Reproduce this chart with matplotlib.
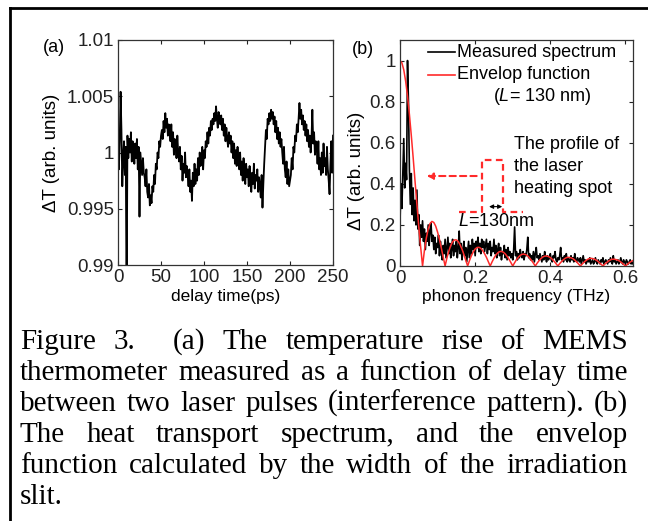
import numpy as np
import matplotlib
matplotlib.use("Agg")
import matplotlib.pyplot as plt
from matplotlib.lines import Line2D

plt.rcParams['font.family'] = ['Liberation Sans', 'DejaVu Sans']
plt.rcParams['mathtext.fontset'] = 'custom'
plt.rcParams['mathtext.rm'] = 'Liberation Sans'
plt.rcParams['mathtext.it'] = 'Liberation Sans:italic'

# --- (a) delay-time trace, 1 ps step, values as (dT - 1) * 1e4 ---
delay_ps = np.arange(0, 251)
dT_dev = [
    0, -15, 10, 54, 20, -30, -5, 10, -20, 5,
    -140, 15, -5, 12, 0, 18, -8, 10, 3, -10,
    8, -5, 12, -15, 5, -57, 0, -10, -20, -5,
    -18, -22, -30, -15, -35, -40, -28, -47, -38, -45,
    -30, -35, -20, -28, -10, -15, 0, -5, 10, 5,
    15, 20, 12, 28, 18, 35, 22, 30, 15, 25,
    20, 10, 25, 5, 18, -2, 12, 8, -5, 15,
    0, -8, 5, -15, -3, -25, -10, -18, 0, -22,
    -12, -20, -30, -15, -35, -25, -43, -18, -30, -10,
    -28, -15, -25, -5, -20, 0, -12, -8, 5, -15,
    2, -5, 10, 5, 18, 8, 22, 15, 28, 20,
    30, 25, 35, 28, 41, 30, 22, 36, 30, 25,
    33, 20, 30, 15, 25, 10, 22, 12, 5, 18,
    8, 15, 0, 10, -5, 8, -10, 2, -12, 5,
    -8, -15, 0, -20, -8, -25, -5, -18, -28, -10,
    -22, -15, -30, -12, -25, -35, -18, -28, -10, -32,
    -20, -25, -15, -35, -22, -30, -40, -20, -49, -28,
    -10, 5, 20, 12, 30, 25, 35, 28, 38, 30,
    36, 25, 32, 18, 28, 12, 22, 8, 18, 5,
    12, 0, -10, 5, -15, -22, -8, -28, -15, -30,
    -25, -20, -5, -15, 5, 0, 15, 10, 25, 18,
    30, 44, 30, 38, 25, 33, 20, 28, 15, 25,
    10, 20, 5, 15, 0, 12, 38, 8, 18, -2,
    10, 5, -10, 10, -15, -5, -20, 0, -18, 8,
    -12, -5, -20, 5, -15, -25, -37, -10, 10, -18,
    15,
]
dT_a = 1 + np.array(dT_dev) * 1e-4

# --- (b) measured spectrum, 0.0025 THz step, values in 1/100 ---
freq_meas = np.arange(0, 249) * 0.0025
spec_meas = [
    21, 40, 28, 45, 62, 38, 50, 42, 100, 80,
    47, 30, 45, 25, 38, 22, 32, 20, 37, 18,
    25, 10, 20, 14, 22, 12, 18, 8, 16, 12,
    20, 10, 17, 21, 12, 15, 8, 14, 6, 11,
    9, 15, 5, 12, 7, 3, 10, 6, 13, 4,
    9, 14, 6, 11, 4, 8, 13, 5, 10, 7,
    12, 4, 9, 17, 6, 11, 3, 8, 12, 5,
    9, 2, 7, 12, 4, 10, 6, 13, 8, 11,
    5, 12, 9, 14, 7, 11, 6, 13, 9, 12,
    7, 10, 13, 6, 11, 8, 12, 5, 9, 7,
    13, 6, 10, 4, 8, 11, 5, 9, 3, 7,
    6, 10, 4, 8, 3, 9, 5, 7, 4, 6,
    3, 8, 19, 5, 7, 3, 6, 4, 8, 5,
    4, 7, 3, 6, 5, 8, 14, 4, 6, 3,
    5, 3, 7, 2, 6, 9, 4, 5, 3, 6,
    4, 2, 5, 3, 7, 4, 2, 5, 3, 4,
    6, 3, 2, 5, 4, 7, 3, 2, 4, 3,
    5, 9, 3, 4, 2, 5, 3, 6, 2, 4,
    3, 2, 5, 3, 4, 2, 6, 3, 2, 4,
    3, 2, 4, 1, 3, 5, 2, 3, 1, 2,
    3, 2, 4, 1, 2, 3, 1, 2, 4, 2,
    1, 3, 2, 1, 3, 2, 4, 1, 2, 3,
    2, 1, 3, 2, 4, 2, 1, 5, 2, 3,
    1, 2, 3, 1, 2, 4, 2, 1, 3, 2,
    1, 3, 2, 1, 2, 3, 1, 2, 1,
]
spec_meas = np.array(spec_meas) / 100

# --- (b) envelop function (L = 130 nm), 0.005 THz step, values in 1/1000 ---
freq_env = np.arange(0, 125) * 0.005
env = [
    1000, 989, 955, 900, 827, 738, 637, 528, 413, 300, 191, 92, 0,
    76, 136, 180, 207, 217, 212, 194, 165, 129, 87, 43, 0,
    40, 73, 100, 118, 127, 127, 119, 103, 82, 56, 28, 0,
    27, 50, 69, 83, 90, 91, 86, 75, 60, 42, 21, 0,
    20, 38, 53, 64, 70, 71, 67, 59, 47, 33, 17, 0,
    16, 31, 43, 52, 57, 58, 55, 49, 39, 27, 14, 0,
    14, 26, 36, 44, 48, 49, 46, 41, 33, 23, 12, 0,
    12, 22, 31, 38, 42, 42, 40, 36, 29, 20, 10, 0,
    10, 19, 27, 33, 37, 37, 35, 31, 25, 17, 9, 0,
    9, 17, 24, 30, 33, 33, 31, 28, 23, 16, 8, 0,
    8, 16, 22, 27,
]
env = np.array(env) / 1000

W, H = 648, 521
fig = plt.figure(figsize=(W / 100, H / 100), dpi=100)


def px_rect(l, t, r, b):
    return [l / W, 1 - b / H, (r - l) / W, (b - t) / H]


def style_axes(ax):
    for s in ax.spines.values():
        s.set_linewidth(0.9)
        s.set_color('#333333')
    ax.tick_params(direction='in', top=True, right=True, length=3, width=0.8,
                   labelsize=13.5, pad=3, colors='#222222')


# --- panel (a) ---
ax1 = fig.add_axes(px_rect(118, 40, 333, 265))
ax1.plot(delay_ps, dT_a, color='black', lw=1.3)
ax1.set_xlim(0, 250)
ax1.set_ylim(0.99, 1.01)
ax1.set_xticks([0, 50, 100, 150, 200, 250])
ax1.set_yticks([0.99, 0.995, 1, 1.005, 1.01])
ax1.set_yticklabels(['0.99', '0.995', '1', '1.005', '1.01'])
style_axes(ax1)
ax1.set_xlabel('delay time(ps)', fontsize=12.5)
ax1.xaxis.set_label_coords(0.5, -0.105)
ax1.set_ylabel('ΔT (arb. units)', fontsize=13.5)
ax1.yaxis.set_label_coords(-0.27, 0.5)
fig.text(43 / W, 1 - 48 / H, '(a)', fontsize=13, va='center', ha='left')

# --- panel (b) ---
red = '#ff2a2a'
ax2 = fig.add_axes(px_rect(400, 40, 633, 266))
ax2.plot(freq_meas, spec_meas, color='black', lw=1.2)
ax2.plot(freq_env, env, color=red, lw=1.1)
ax2.set_xlim(0, 0.62)
ax2.set_ylim(0, 1.1)
ax2.set_xticks([0, 0.2, 0.4, 0.6])
ax2.set_xticklabels(['0', '0.2', '0.4', '0.6'])
ax2.set_yticks([0, 0.2, 0.4, 0.6, 0.8, 1])
ax2.set_yticklabels(['0', '0.2', '0.4', '0.6', '0.8', '1'])
style_axes(ax2)
ax2.set_xlabel('phonon frequency (THz)', fontsize=12.5)
ax2.xaxis.set_label_coords(0.5, -0.1)
ax2.set_ylabel('ΔT (arb. units)', fontsize=13.5)
ax2.yaxis.set_label_coords(-0.15, 0.42)
fig.text(352 / W, 1 - 50 / H, '(b)', fontsize=13, va='center', ha='left')

# legend drawn by hand (matlab-like layout)
ax2.plot([0.0745, 0.146], [1.041, 1.041], color='black', lw=1.2)
ax2.text(0.152, 1.041, 'Measured spectrum', fontsize=13, va='center')
ax2.plot([0.0745, 0.146], [0.93, 0.93], color=red, lw=1.2)
ax2.text(0.152, 0.93, 'Envelop function', fontsize=13, va='center')
ax2.text(0.247, 0.823, r'($\it{L}$= 130 nm)', fontsize=13, va='center')

# laser heating spot profile
ax2.plot([0.157, 0.217, 0.217, 0.273, 0.273, 0.327],
         [0.263, 0.263, 0.516, 0.516, 0.263, 0.263],
         color=red, lw=1.6, ls=(0, (3, 2)))
ax2.annotate('', xy=(0.071, 0.438), xytext=(0.204, 0.438),
             arrowprops=dict(arrowstyle='-|>', color=red, lw=1.5, ls=(0, (3, 2)),
                             mutation_scale=9, shrinkA=0, shrinkB=0))
ax2.annotate('', xy=(0.237, 0.289), xytext=(0.272, 0.289),
             arrowprops=dict(arrowstyle='<|-|>', color='black', lw=0.8,
                             mutation_scale=6, shrinkA=0, shrinkB=0))
ax2.text(0.255, 0.216, r'$\it{L}$=130nm', fontsize=13, ha='center', va='center')
for txt, yy in [('The profile of', 0.589), ('the laser', 0.482), ('heating spot', 0.375)]:
    ax2.text(0.303, yy, txt, fontsize=13, va='center')

# --- page frame ---
fig.add_artist(Line2D([10 / W, 1.0], [1 - 8 / H, 1 - 8 / H], color='black', lw=2))
fig.add_artist(Line2D([10 / W, 10 / W], [0, 1 - 8 / H], color='black', lw=2))

# --- caption, justified ---
caption = [
    (['Figure', '3.', '(a)', 'The', 'temperature', 'rise', 'of', 'MEMS'], [1, 2.2, 1, 1, 1, 1, 1]),
    (['thermometer', 'measured', 'as', 'a', 'function', 'of', 'delay', 'time'], None),
    (['between', 'two', 'laser', 'pulses', '(interference', 'pattern).', '(b)'], None),
    (['The', 'heat', 'transport', 'spectrum,', 'and', 'the', 'envelop'], None),
    (['function', 'calculated', 'by', 'the', 'width', 'of', 'the', 'irradiation'], None),
    (['slit.'], None),
]
cap_left, cap_right = 20, 628
cap_base = [349, 380, 411, 442, 473, 504]
cap_size = 21
renderer = fig.canvas.get_renderer()
for (words, weights), yb in zip(caption, cap_base):
    texts = [fig.text(0, 1 - yb / H, w, fontsize=cap_size, family='Liberation Serif',
                      va='baseline', ha='left') for w in words]
    widths = [t.get_window_extent(renderer).width for t in texts]
    if len(words) == 1:
        texts[0].set_x(cap_left / W)
        continue
    if weights is None:
        weights = [1] * (len(words) - 1)
    gap = max((cap_right - cap_left - sum(widths)) / sum(weights), 4)
    x = cap_left
    for i, t in enumerate(texts):
        t.set_x(x / W)
        if i < len(weights):
            x += widths[i] + gap * weights[i]

fig.savefig('out.png', dpi=100)
